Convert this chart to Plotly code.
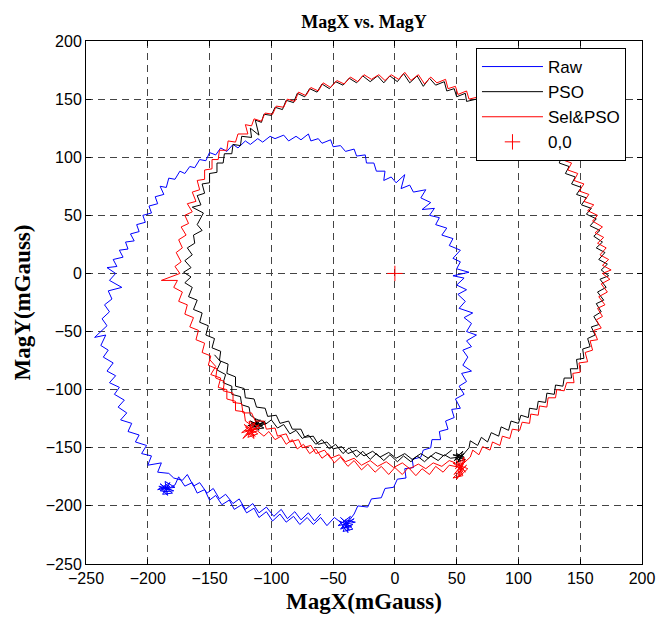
import plotly.graph_objects as go

# ---------------- data ----------------
# Raw (blue)
raw_cluster_a = [(-185,-185),(-190,-181),(-180,-189),(-188,-190),(-182,-180),(-192,-186),(-178,-184),
                 (-186,-179),(-184,-191),(-191,-183),(-179,-187),(-187,-188),(-183,-182),(-189,-185),
                 (-181,-186),(-186,-184),(-184,-188),(-190,-187),(-182,-183),(-185,-186)]
raw_bottom1 = [(-178,-182),(-175,-175),(-170,-183),(-164,-180),(-160,-189),(-154,-186),(-150,-195),
               (-145,-191),(-140,-199),(-134,-195),(-130,-203),(-124,-199),(-120,-206),(-114,-202),
               (-110,-210),(-104,-205),(-99,-213),(-93,-207),(-88,-214),(-82,-209),(-77,-216),(-71,-210),
               (-66,-216),(-60,-210),(-55,-217),(-49,-210),(-44,-214)]
raw_cluster_b = [(-39,-215),(-44,-210),(-34,-220),(-42,-222),(-36,-209),(-46,-217),(-32,-214),(-40,-212),
                 (-38,-223),(-45,-213),(-35,-218),(-43,-219),(-33,-211),(-41,-216),(-37,-221),(-39,-213),
                 (-44,-220),(-34,-216),(-40,-218),(-38,-214)]
raw_loop = [(-33,-207),(-30,-200),(-22,-201),(-19,-194),(-11,-193),(-8,-185),(-1,-184),(2,-177),(9,-176),
            (8,-168),(15,-167),(14,-160),(21,-158),(23,-152),(29,-150),(30,-143),(37,-143),(36,-136),
            (43,-134),(41,-127),(48,-124),(46,-117),(53,-116),(49,-108),(56,-104),(52,-97),(58,-93),
            (54,-86),(62,-84),(55,-79),(59,-72),(55,-66),(62,-63),(58,-58),(66,-53),(58,-50),(62,-43),
            (56,-38),(63,-34),(52,-30),(57,-24),(51,-18),(58,-14),(50,-10),(56,-4),(47,-2),(60,1),(50,4),
            (53,10),(47,13),(53,20),(44,24),(47,30),(38,33),(42,39),(33,42),(36,48),(28,50),(32,56),
            (22,55),(29,61),(21,65),(25,72),(15,70),(12,76),(5,73),(8,85),(1,78),(-3,83),(-9,80),(-8,88),
            (-15,88),(-17,95),(-23,95),(-24,102),(-31,101),(-33,107),(-40,105),(-44,110),(-50,109),
            (-52,115),(-59,112),(-62,116),(-68,114),(-70,120),(-76,115),(-80,118),(-86,114),(-90,119),
            (-97,116),(-101,118),(-107,113),(-111,116),(-117,111),(-121,114),(-127,108),(-131,111),
            (-136,105),(-141,108),(-145,102),(-150,104),(-153,97),(-158,98),(-162,91),(-166,92),
            (-170,86),(-174,88),(-178,81),(-183,82),(-185,74),(-190,75),(-187,68),(-194,66),(-192,60),
            (-199,58),(-197,52),(-204,50),(-202,44),(-209,42),(-207,36),(-214,34),(-211,28),(-218,27),
            (-216,21),(-223,20),(-220,14),(-228,12),(-225,6),(-233,5),(-226,0),(-231,-6),(-221,-12),
            (-232,-15),(-229,-22),(-235,-27),(-231,-33),(-237,-39),(-233,-45),(-243,-55),(-234,-53),
            (-238,-62),(-232,-66),(-236,-72),(-228,-77),(-233,-84),(-226,-88),(-231,-94),(-223,-98),
            (-227,-104),(-219,-109),(-224,-115),(-217,-120),(-222,-126),(-213,-129),(-216,-136),
            (-207,-139),(-210,-145),(-201,-148),(-205,-155),(-197,-157),(-200,-165),(-189,-163),
            (-192,-171),(-183,-172)]
raw_bottom2 = [(-179,-176),(-172,-178),(-168,-173),(-163,-183),(-158,-180),(-152,-189),(-147,-185),
               (-142,-194),(-137,-190),(-131,-198),(-126,-194),(-121,-203),(-115,-198),(-110,-206),
               (-104,-201),(-98,-209),(-92,-203),(-87,-211),(-81,-205),(-76,-212),(-70,-206),(-65,-213),
               (-60,-207)]

# PSO (black)
pso_start = [(-146,-70),(-141,-76),(-144,-83),(-137,-87),(-139,-94),(-132,-97),(-132,-104),(-125,-106),
             (-124,-113),(-118,-115),(-117,-122),(-113,-125)]
pso_cluster_a = [(-112,-130),(-117,-127),(-106,-133),(-114,-134),(-109,-126),(-119,-131),(-104,-129),
                 (-113,-125),(-110,-135),(-116,-129),(-107,-131),(-115,-132),(-111,-128),(-118,-134),
                 (-105,-127),(-112,-132),(-109,-130),(-113,-129)]
pso_bottom1 = [(-105,-130),(-100,-126),(-95,-133),(-90,-130),(-85,-138),(-80,-135),(-75,-142),(-70,-139),
               (-64,-147),(-59,-143),(-53,-151),(-48,-147),(-42,-155),(-37,-150),(-31,-158),(-26,-153),
               (-20,-160),(-15,-155),(-9,-161),(-4,-156),(2,-162),(7,-157),(13,-162),(18,-157),(24,-162),
               (29,-157),(35,-161),(40,-156),(45,-159)]
pso_cluster_b = [(52,-158),(48,-161),(56,-155),(50,-163),(54,-157),(47,-156),(57,-160),(51,-162),
                 (55,-153),(49,-159),(53,-161),(50,-155),(56,-158),(52,-160)]
pso_loop = [(60,-150),(61,-144),(67,-148),(70,-141),(75,-145),(78,-137),(84,-140),(86,-132),(92,-135),
            (94,-127),(100,-129),(102,-122),(108,-124),(109,-116),(115,-117),(116,-110),(122,-111),
            (123,-103),(129,-104),(130,-96),(136,-97),(137,-90),(143,-90),(142,-82),(148,-82),(147,-74),
            (153,-73),(152,-65),(158,-63),(156,-56),(162,-53),(159,-46),(165,-44),(161,-37),(167,-33),
            (163,-26),(169,-23),(164,-16),(171,-12),(166,-5),(173,-2),(167,3),(172,8),(165,12),(170,18),
            (163,22),(168,27),(161,32),(166,37),(158,41),(163,47),(155,51),(159,56),(151,59),(155,65),
            (147,68),(151,74),(143,77),(146,83),(138,86),(141,92),(133,95),(135,101),(126,104),(127,110),
            (118,113),(118,120),(109,121),(109,128),(100,128),(99,135),(90,134),(88,141),(79,139),
            (77,146),(69,144),(66,150),(58,148),(57,155),(50,152),(48,159),(42,157),(40,165),(33,162),
            (28,168),(23,161),(18,170),(12,164),(7,172),(2,165),(-4,170),(-9,164),(-14,170),(-20,165),
            (-26,170),(-31,164),(-37,168),(-42,162),(-48,165),(-53,159),(-59,163),(-63,156),(-69,159),
            (-73,152),(-79,155),(-82,147),(-88,149),(-91,141),(-97,143),(-100,136),(-106,137),
            (-108,130),(-113,132),(-110,119),(-117,125),(-116,117),(-124,118),(-125,110),(-131,111),
            (-132,103),(-138,103),(-139,95),(-144,95),(-144,87),(-150,86),(-150,78),(-156,77),(-154,69),
            (-160,67),(-157,59),(-164,57),(-155,52),(-160,42),(-156,37),(-163,33),(-162,26),(-168,22),
            (-164,16),(-170,11),(-165,5),(-171,1),(-165,-3),(-170,-8),(-164,-12),(-167,-20),(-160,-23),
            (-163,-31),(-156,-34),(-158,-42),(-151,-45),(-153,-53),(-146,-56),(-148,-64),(-141,-67),
            (-142,-75),(-135,-78),(-136,-86),(-129,-89),(-129,-97),(-122,-99),(-121,-107),(-114,-108),
            (-112,-115),(-105,-116),(-103,-123),(-96,-122),(-93,-129),(-86,-127),(-83,-134),(-76,-134),
            (-73,-141),(-66,-140),(-62,-147),(-55,-145),(-50,-151),(-43,-149),(-38,-155),(-31,-152),
            (-25,-157),(-18,-153),(-12,-158),(-5,-154),(1,-159),(8,-155),(14,-160),(21,-155),(27,-159),
            (33,-154),(40,-157),(46,-152)]

# Sel&PSO (red)
sel_start = [(-150,-74),(-145,-80),(-149,-87),(-141,-90),(-143,-98),(-136,-100),(-136,-108),(-129,-110),
             (-129,-118),(-122,-119),(-121,-127),(-117,-130)]
sel_cluster_a = [(-117,-134),(-122,-130),(-111,-138),(-119,-141),(-113,-128),(-124,-137),(-109,-133),
                 (-118,-127),(-114,-142),(-121,-135),(-112,-136),(-120,-139),(-115,-131),(-123,-142),
                 (-110,-130),(-117,-138),(-113,-140),(-121,-132),(-116,-136),(-114,-133)]
sel_bottom1 = [(-106,-140),(-102,-136),(-97,-143),(-92,-140),(-88,-147),(-83,-143),(-79,-151),(-74,-147),
               (-69,-155),(-64,-151),(-59,-159),(-54,-155),(-49,-163),(-44,-158),(-38,-166),(-33,-161),
               (-27,-169),(-22,-164),(-16,-171),(-11,-166),(-5,-173),(0,-167),(6,-173),(11,-167),
               (17,-174),(22,-168),(28,-173),(33,-166),(39,-171),(44,-165)]
sel_cluster_b = [(53,-167),(48,-173),(57,-160),(50,-177),(55,-170),(47,-163),(59,-168),(52,-175),
                 (56,-158),(49,-168),(54,-163),(51,-172),(58,-165),(47,-176),(55,-174),(50,-161),
                 (57,-171),(52,-164),(54,-169),(53,-166)]
sel_loop = [(61,-158),(63,-152),(68,-156),(71,-149),(77,-152),(79,-145),(85,-148),(87,-140),(93,-142),
            (95,-134),(101,-135),(103,-128),(109,-129),(110,-121),(116,-122),(117,-114),(123,-115),
            (124,-107),(130,-107),(131,-100),(137,-101),(139,-94),(145,-94),(144,-86),(150,-85),
            (149,-77),(156,-76),(154,-68),(160,-66),(158,-58),(164,-57),(161,-49),(167,-47),(163,-40),
            (168,-37),(164,-30),(170,-27),(165,-20),(172,-16),(167,-9),(174,-5),(168,0),(175,3),(168,7),
            (173,12),(166,16),(171,22),(164,26),(169,31),(162,35),(168,40),(160,45),(164,50),(156,54),
            (161,59),(153,62),(157,68),(149,71),(153,77),(145,80),(148,86),(140,89),(143,95),(135,98),
            (137,104),(128,107),(129,113),(120,115),(121,122),(111,123),(111,130),(102,130),(101,137),
            (92,136),(90,143),(81,141),(79,148),(71,146),(68,152),(60,150),(58,157),(51,154),(49,161),
            (43,159),(41,167),(34,164),(29,169),(24,163),(19,171),(13,166),(8,173),(3,167),(-3,171),
            (-8,166),(-13,171),(-19,167),(-25,171),(-30,165),(-36,169),(-41,163),(-47,166),(-52,160),
            (-58,164),(-62,157),(-68,160),(-72,153),(-78,156),(-81,148),(-87,150),(-90,143),(-96,144),
            (-99,137),(-105,138),(-108,131),(-114,133),(-116,127),(-121,128),(-119,120),(-127,120),
            (-129,113),(-135,114),(-136,106),(-142,106),(-143,98),(-148,98),(-148,90),(-154,89),
            (-154,81),(-160,80),(-158,72),(-164,70),(-161,62),(-168,60),(-164,53),(-170,50),(-167,43),
            (-173,40),(-169,33),(-175,29),(-172,22),(-177,18),(-173,10),(-178,6),(-174,0),(-189,-6),
            (-176,-6),(-179,-12),(-172,-16),(-175,-24),(-168,-27),(-170,-35),(-163,-38),(-166,-46),
            (-159,-49),(-161,-57),(-154,-60),(-156,-68),(-149,-71),(-151,-79),(-144,-82),(-145,-90),
            (-138,-93),(-139,-101),(-131,-103),(-131,-111),(-124,-112),(-123,-120),(-116,-120),
            (-113,-127),(-106,-127),(-104,-134),(-97,-133),(-95,-140),(-88,-138),(-85,-145),(-78,-143),
            (-75,-150),(-68,-148),(-64,-155),(-57,-152),(-52,-159),(-45,-156),(-40,-162),(-33,-159),
            (-27,-165),(-20,-161),(-14,-166),(-7,-162),(-1,-167),(6,-163),(12,-168),(19,-164),(25,-168),
            (31,-163),(38,-166),(44,-161),(49,-163)]

origin_x = [0]
origin_y = [0]

raw_pts = raw_cluster_a + raw_bottom1 + raw_cluster_b + raw_loop + raw_bottom2
pso_pts = pso_start + pso_cluster_a + pso_bottom1 + pso_cluster_b + pso_loop
sel_pts = sel_start + sel_cluster_a + sel_bottom1 + sel_cluster_b + sel_loop


def xs(p):
    return [a for a, b in p]


def ys(p):
    return [b for a, b in p]


fig = go.Figure()
fig.add_trace(go.Scatter(x=xs(raw_pts), y=ys(raw_pts), mode="lines", name="Raw",
                         line=dict(color="#0000ff", width=1)))
fig.add_trace(go.Scatter(x=xs(pso_pts), y=ys(pso_pts), mode="lines", name="PSO",
                         line=dict(color="#000000", width=1)))
fig.add_trace(go.Scatter(x=xs(sel_pts), y=ys(sel_pts), mode="lines", name="Sel&PSO",
                         line=dict(color="#ff0000", width=1)))
fig.add_trace(go.Scatter(x=origin_x, y=origin_y, mode="markers", name="0,0",
                         marker=dict(symbol="cross-thin", size=11, color="#ff0000",
                                     line=dict(color="#ff0000", width=1))))

tickfont = dict(family="Liberation Sans, Arial", size=16, color="black")
titlefont = dict(family="Liberation Serif, Times New Roman", size=23, color="black", weight="bold")
axis_common = dict(range=[-250, 200], tick0=-250, dtick=50, showgrid=True, gridcolor="#444444",
                   griddash="7px,5px", gridwidth=1, showline=True, linecolor="black", linewidth=1,
                   mirror="ticks", ticks="inside", ticklen=5, tickcolor="black", zeroline=False,
                   tickfont=tickfont, automargin=False)

fig.update_layout(
    width=658, height=623,
    margin=dict(l=86, r=16, t=41, b=59),
    paper_bgcolor="white", plot_bgcolor="white",
    title=dict(text="MagX vs. MagY", x=0.5, xref="paper", xanchor="center",
               y=1 - 22 / 623, yref="container", yanchor="middle",
               font=dict(family="Liberation Serif, Times New Roman", size=18, color="black",
                         weight="bold")),
    xaxis=dict(axis_common, title=dict(text="MagX(mGauss)", font=titlefont, standoff=6)),
    yaxis=dict(axis_common, title=dict(text="MagY(mGauss)", font=titlefont, standoff=8)),
    legend=dict(x=0.7014, y=0.9866, xanchor="left", yanchor="top", bgcolor="white",
                bordercolor="black", borderwidth=1, itemwidth=61,
                font=dict(family="Liberation Sans, Arial", size=17, color="black")),
    showlegend=True,
)

fig.write_html("out.html")
